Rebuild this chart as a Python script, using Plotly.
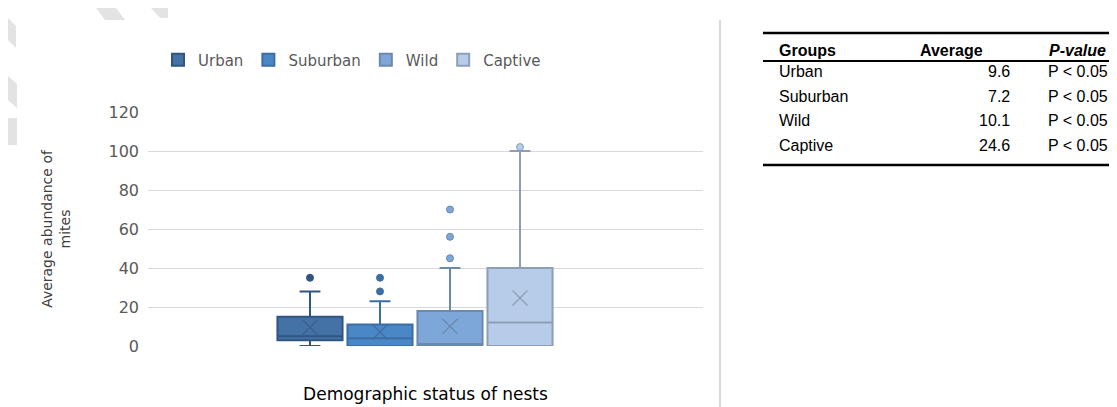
import plotly.graph_objects as go

# ---------------- data ----------------
groups = ["Urban", "Suburban", "Wild", "Captive"]
q1 = [3, 0, 0, 0]
median = [5, 4, 1, 12]
q3 = [15, 11, 18, 40]
lower_fence = [0, 0, 0, 0]
upper_fence = [28, 23, 40, 100]
means = [9.6, 7.2, 10.1, 24.6]
outliers = {
    "Urban": [35],
    "Suburban": [28, 35],
    "Wild": [45, 56, 70],
    "Captive": [102],
}
pvalues = ["P < 0.05", "P < 0.05", "P < 0.05", "P < 0.05"]

fills = ["#4472A6", "#4A87C6", "#7DA7D9", "#B6CCE8"]
lines = ["#2F5582", "#3C6EA3", "#6B89AD", "#8D9EB6"]
xmarks = ["#3A5F8A", "#3F6C9C", "#6885AA", "#8C9CB3"]

fig = go.Figure()
for i, g in enumerate(groups):
    fig.add_trace(go.Box(
        name=g, x=[g], q1=[q1[i]], median=[median[i]], q3=[q3[i]],
        lowerfence=[lower_fence[i]], upperfence=[upper_fence[i]],
        fillcolor=fills[i], line=dict(color=lines[i], width=2),
        width=0.93, whiskerwidth=0.32, boxpoints=False, hoverinfo="skip",
    ))
for i, g in enumerate(groups):
    fig.add_trace(go.Scatter(
        x=[g], y=[means[i]], mode="markers", showlegend=False,
        marker=dict(symbol="x-thin-open", size=15, color=xmarks[i],
                    line=dict(color=xmarks[i], width=1.2)),
        hoverinfo="skip",
    ))
    fig.add_trace(go.Scatter(
        x=[g] * len(outliers[g]), y=outliers[g], mode="markers", showlegend=False,
        marker=dict(symbol="circle", size=7, color=lines[i] if i < 2 else fills[i],
                    line=dict(color=lines[i], width=1)),
        hoverinfo="skip",
    ))

L, R, T, B = 140, 1117 - 695, 104, 407 - 338
W, H = 1117, 407
pw, ph = W - L - R, H - T - B

def px(x):
    return (x - L) / pw

def py(y):
    return (H - B - y) / ph

fig.update_layout(
    width=W, height=H, margin=dict(l=L, r=R, t=T, b=B),
    paper_bgcolor="white", plot_bgcolor="white",
    boxmode="overlay",
    font=dict(family="DejaVu Sans", color="#595959", size=14),
    legend=dict(orientation="h", x=px(150), xanchor="left", y=py(52), yanchor="middle",
                font=dict(size=15, color="#595959"), itemsizing="constant",
                traceorder="normal"),
    xaxis=dict(type="category", categoryorder="array", categoryarray=groups,
               range=[-2.314, 5.614], showticklabels=False, showgrid=False,
               zeroline=False, showline=False, ticks="",
               title=dict(text="Demographic status of nests", standoff=42,
                          font=dict(size=17, color="#000000"))),
    yaxis=dict(range=[0, 120], dtick=20, showgrid=True, gridcolor="#D9D9D9",
               gridwidth=1.3, zeroline=False, showline=False, ticks="",
               tickfont=dict(size=16, color="#595959"), ticklabelstandoff=8,
               title=dict(text="Average abundance of<br>mites", standoff=34,
                          font=dict(size=14, color="#404040"))),
)

# --------------- table on the right ---------------
tbl_x0, tbl_x1 = 755, 1117
col_groups_x = 769
col_avg_right = 1004
col_p_left = 1038
header_y = 42
row_ys = [64, 88, 112, 137]
rule_top, rule_head, rule_bot = 25, 53, 157

shapes = []
for yy, wdt in [(rule_top, 2.5), (rule_head, 1.8), (rule_bot, 2.5)]:
    shapes.append(dict(type="line", xref="paper", yref="paper",
                       x0=px(tbl_x0), x1=px(tbl_x1), y0=py(yy), y1=py(yy),
                       line=dict(color="black", width=wdt)))
# vertical divider
shapes.append(dict(type="line", xref="paper", yref="paper",
                   x0=px(712), x1=px(712), y0=py(12), y1=py(407),
                   line=dict(color="#D9D9D9", width=2)))
# faint hatched decorations at top-left
for path in [
    "M {} {} L {} {} L {} {} L {} {} Z".format(px(0), py(10), px(8), py(18), px(8), py(40), px(0), py(32)),
    "M {} {} L {} {} L {} {} L {} {} Z".format(px(88), py(0), px(108), py(0), px(117), py(12), px(97), py(12)),
    "M {} {} L {} {} L {} {} L {} {} Z".format(px(143), py(0), px(160), py(0), px(160), py(10), px(152), py(10)),
    "M {} {} L {} {} L {} {} L {} {} Z".format(px(0), py(68), px(9), py(76), px(9), py(100), px(0), py(92)),
    "M {} {} L {} {} L {} {} L {} {} Z".format(px(0), py(110), px(9), py(110), px(9), py(137), px(0), py(137)),
]:
    shapes.append(dict(type="path", xref="paper", yref="paper", path=path,
                       fillcolor="#E3E3E3", line=dict(width=0), layer="below"))

annos = []
tfont = dict(family="Liberation Sans", size=16, color="black")
annos.append(dict(text="<b>Groups</b>", x=px(col_groups_x), y=py(header_y), xanchor="left"))
annos.append(dict(text="<b>Average</b>", x=px(943), y=py(header_y), xanchor="center"))
annos.append(dict(text="<b><i>P-value</i></b>", x=px(col_p_left + 31), y=py(header_y), xanchor="center"))
for g, a, p, yy in zip(groups, means, pvalues, row_ys):
    annos.append(dict(text=g, x=px(col_groups_x), y=py(yy), xanchor="left"))
    annos.append(dict(text=f"{a:.1f}", x=px(col_avg_right), y=py(yy), xanchor="right"))
    annos.append(dict(text=p.replace("<", "&lt;"), x=px(col_p_left), y=py(yy), xanchor="left"))
for a in annos:
    a.update(xref="paper", yref="paper", yanchor="middle", showarrow=False, font=tfont)

fig.update_layout(shapes=shapes, annotations=annos)
fig.write_html("out.html")
